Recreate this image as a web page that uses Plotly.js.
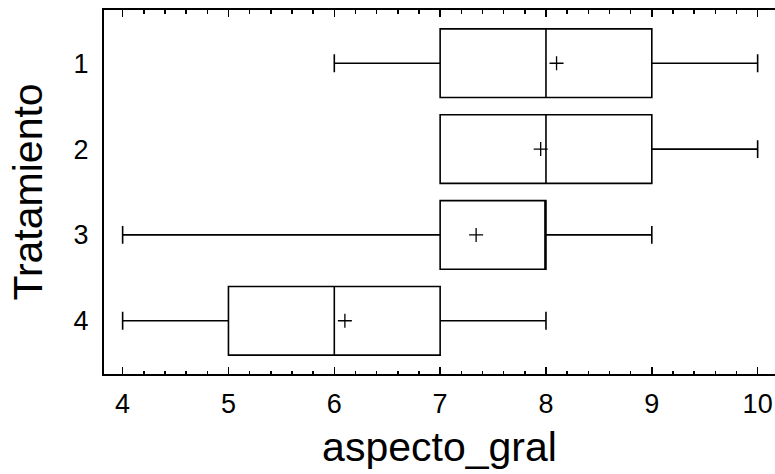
<!DOCTYPE html>
<html>
<head>
<meta charset="utf-8">
<script src="https://cdn.plot.ly/plotly-3.0.1.min.js"></script>
<style>html,body{margin:0;padding:0;background:#fff;}#chart{width:775px;height:474px;}</style>
</head>
<body>
<div id="chart"></div>
<script>
var tratamiento = [1, 2, 3, 4];
var tickLabels = ["1", "2", "3", "4"];
var minimo = [6, 7, 4, 4];
var q1 = [7, 7, 7, 5];
var mediana = [8, 8, 8, 6];
var q3 = [9, 9, 8, 7];
var maximo = [10, 10, 9, 8];
var media = [8.10, 7.95, 7.34, 6.10];

var FONT = "Liberation Sans, Arial, Helvetica, sans-serif";

var boxTrace = {
  type: "box",
  orientation: "h",
  y: tratamiento,
  q1: q1,
  median: mediana,
  q3: q3,
  lowerfence: minimo,
  upperfence: maximo,
  width: 0.8,
  whiskerwidth: 0.26,
  fillcolor: "rgba(0,0,0,0)",
  line: { color: "#000", width: 1.6 },
  boxpoints: false,
  hoverinfo: "skip",
  showlegend: false
};

var meanTrace = {
  type: "scatter",
  mode: "markers",
  x: media,
  y: tratamiento,
  marker: { symbol: "cross-thin-open", size: 10, color: "#000", line: { color: "#000", width: 1.3 } },
  hoverinfo: "skip",
  showlegend: false
};

var layout = {
  width: 775,
  height: 474,
  margin: { l: 104, r: 0, t: 10, b: 100 },
  paper_bgcolor: "#fff",
  plot_bgcolor: "#fff",
  font: { family: FONT, color: "#000" },
  xaxis: {
    range: [3.824, 10.164],
    tickvals: [4, 5, 6, 7, 8, 9, 10],
    ticks: "inside",
    ticklen: 7,
    tickwidth: 1.5,
    tickcolor: "#000",
    minor: { dtick: 0.2, tick0: 0, ticks: "inside", ticklen: 3.5, tickwidth: 1.5, tickcolor: "#000" },
    showline: true,
    linewidth: 2,
    linecolor: "#000",
    mirror: "ticks",
    showgrid: false,
    zeroline: false,
    tickfont: { size: 27, family: FONT },
    ticklabelstandoff: 5,
    title: { text: "aspecto_gral", font: { size: 41, family: FONT }, standoff: 14 }
  },
  yaxis: {
    range: [4.62, 0.38],
    tickvals: tratamiento,
    ticktext: tickLabels,
    ticks: "",
    showline: true,
    linewidth: 2,
    linecolor: "#000",
    mirror: false,
    showgrid: false,
    zeroline: false,
    tickfont: { size: 27, family: FONT },
    ticklabelstandoff: 8,
    title: { text: "Tratamiento", font: { size: 41, family: FONT }, standoff: 18 }
  }
};

Plotly.newPlot("chart", [boxTrace, meanTrace], layout, { staticPlot: true, displayModeBar: false });
</script>
</body>
</html>
